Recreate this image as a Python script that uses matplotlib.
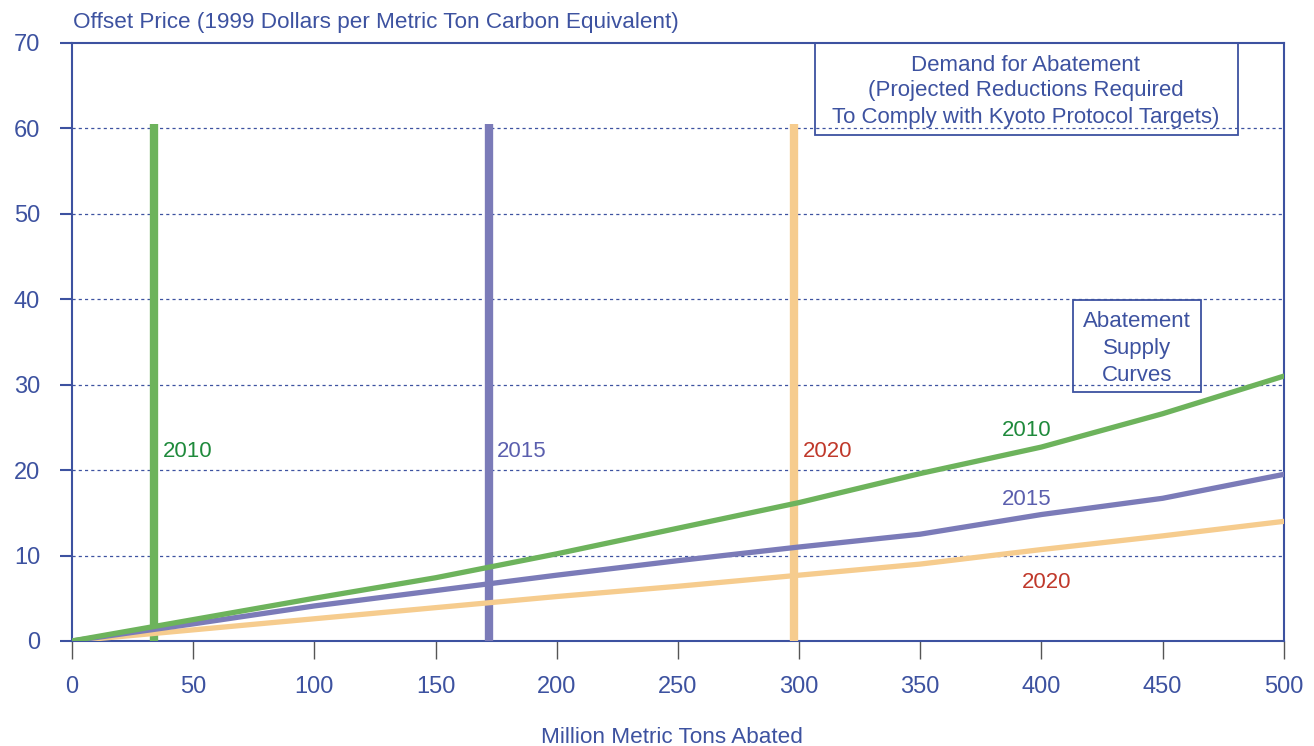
import matplotlib.pyplot as plt
from matplotlib.patches import Rectangle

plt.rcParams['font.family'] = ['Liberation Sans', 'DejaVu Sans']

tons = [0, 50, 100, 150, 200, 250, 300, 350, 400, 450, 500]
supply_2010 = [0, 2.5, 5.0, 7.4, 10.2, 13.2, 16.2, 19.6, 22.7, 26.6, 31.0]
supply_2015 = [0, 2.0, 4.1, 5.9, 7.7, 9.4, 11.0, 12.5, 14.8, 16.7, 19.5]
supply_2020 = [0, 1.3, 2.6, 3.9, 5.2, 6.4, 7.7, 9.0, 10.7, 12.3, 14.0]

demand_x = [34, 172, 298]   # required reductions, 2010/2015/2020
demand_top = 60.5
years = ['2010', '2015', '2020']

green = '#6db35c'
purple = '#7b7bb8'
orange = '#f6cc8e'
txtblue = '#3d52a0'
lbl_cols = ['#1f8a3c', '#5b5fae', '#c0392b']
fs = 16

fig = plt.figure(figsize=(13.14, 7.46), dpi=100)
ax = fig.add_axes([0.0548, 0.1408, 0.9222, 0.8016])

for yv in range(10, 70, 10):
    ax.axhline(yv, color=txtblue, lw=0.9, ls=(0, (2.5, 2.5)), zorder=1)

for xv, c in zip(demand_x, [green, purple, orange]):
    ax.plot([xv, xv], [0, demand_top], color=c, lw=6, solid_capstyle='butt', zorder=3)

ax.plot(tons, supply_2020, color=orange, lw=3.8, zorder=4, solid_capstyle='round')
ax.plot(tons, supply_2015, color=purple, lw=3.8, zorder=4, solid_capstyle='round')
ax.plot(tons, supply_2010, color=green, lw=3.8, zorder=4, solid_capstyle='round')

# labels beside demand lines
for xv, yr, c in zip(demand_x, years, lbl_cols):
    ax.text(xv + 3.5, 22.2, yr, color=c, fontsize=fs, va='center', ha='left')

# labels on supply curves
ax.text(394, 24.6, '2010', color=lbl_cols[0], fontsize=fs, ha='center', va='center')
ax.text(394, 16.6, '2015', color=lbl_cols[1], fontsize=fs, ha='center', va='center')
ax.text(402, 6.9, '2020', color=lbl_cols[2], fontsize=fs, ha='center', va='center')

# annotation boxes
ax.add_patch(Rectangle((306.5, 59.2), 174.5, 10.8, fill=False, ec=txtblue, lw=1.3,
                       clip_on=False, zorder=5))
ax.text(393.5, 67.4, 'Demand for Abatement', color=txtblue, fontsize=fs, ha='center', va='center')
ax.text(393.5, 64.4, '(Projected Reductions Required', color=txtblue, fontsize=fs, ha='center', va='center')
ax.text(393.5, 61.3, 'To Comply with Kyoto Protocol Targets)', color=txtblue, fontsize=fs,
        ha='center', va='center')

ax.add_patch(Rectangle((413, 29.1), 53, 10.8, fill=False, ec=txtblue, lw=1.3,
                       clip_on=False, zorder=5))
ax.text(439.5, 37.4, 'Abatement', color=txtblue, fontsize=fs, ha='center', va='center')
ax.text(439.5, 34.2, 'Supply', color=txtblue, fontsize=fs, ha='center', va='center')
ax.text(439.5, 31.1, 'Curves', color=txtblue, fontsize=fs, ha='center', va='center')

ax.set_xlim(0, 500)
ax.set_ylim(0, 70)
ax.set_xticks(range(0, 501, 50))
ax.set_yticks(range(0, 71, 10))
ax.tick_params(axis='x', direction='out', length=13, width=1, color='#555555',
               labelcolor=txtblue, labelsize=17, pad=12)
ax.tick_params(axis='y', direction='out', length=9, width=1.5, color=txtblue,
               labelcolor=txtblue, labelsize=17, pad=14)
for s in ax.spines.values():
    s.set_color(txtblue)
    s.set_linewidth(1.5)

fig.text(0.0555, 0.97, 'Offset Price (1999 Dollars per Metric Ton Carbon Equivalent)',
         color=txtblue, fontsize=16.2, ha='left', va='center')
fig.text(0.511, 0.012, 'Million Metric Tons Abated', color=txtblue, fontsize=16.2,
         ha='center', va='center')

fig.savefig('out.png', dpi=100)
